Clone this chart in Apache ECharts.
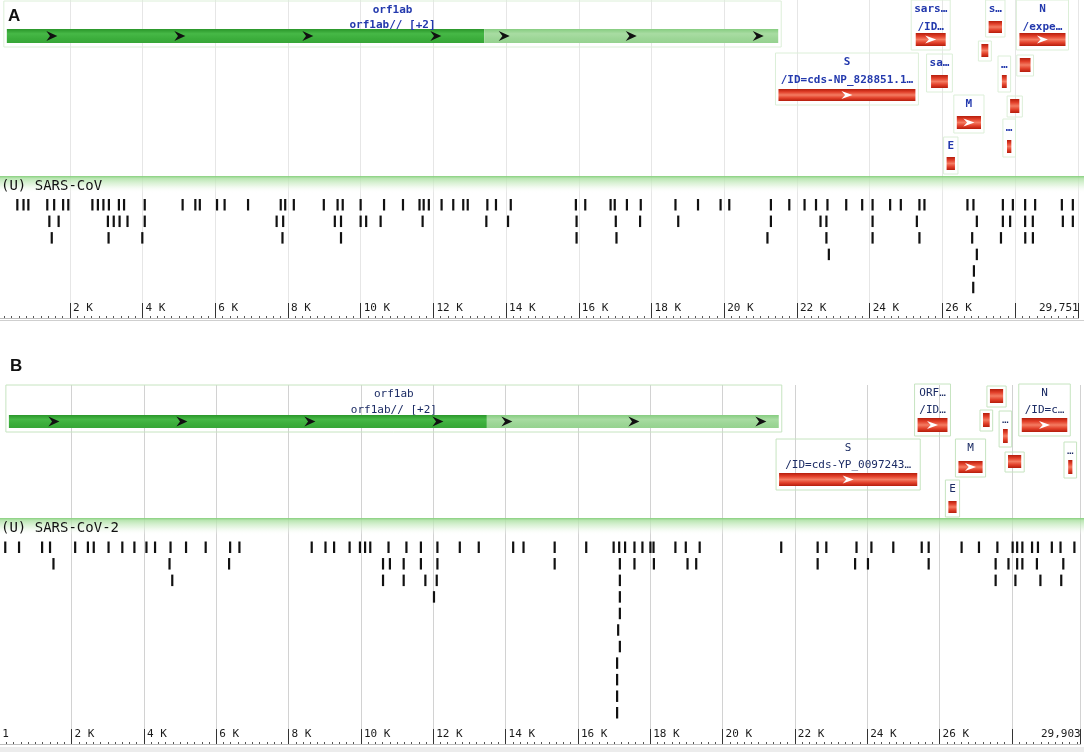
<!DOCTYPE html>
<html>
<head>
<meta charset="utf-8">
<title>SARS-CoV / SARS-CoV-2 genome annotation</title>
<script src="https://cdn.jsdelivr.net/npm/echarts@6.0.0/dist/echarts.min.js"></script>
<style>
  html, body { margin: 0; padding: 0; background: #fff; }
  #chart { width: 1084px; height: 752px; }
</style>
</head>
<body>
<div id="chart"></div>
<script>
// ---- data: panel A, SARS-CoV ----
const genomeA = 29751
const orf1aEndA = 13398
const genesA = ['orf1ab', 'S', 'orf3a', 'orf3b', 'E', 'M', 'orf6', 'orf7a', 'orf7b', 'orf8a', 'orf8b', 'N', 'orf9b']
const startsA = [265, 21492, 25268, 25689, 26117, 26398, 27074, 27273, 27638, 27779, 27864, 28120, 28130]
const endsA = [21485, 25259, 26092, 26153, 26347, 27063, 27265, 27641, 27772, 27898, 28118, 29388, 28426]
const labelsA = [
  ['orf1ab', 'orf1ab// [+2]'], ['S', '/ID=cds-NP_828851.1…'], ['sars…', '/ID…'], ['sa…'],
  ['E'], ['M'], [], ['s…'], ['…'], ['…'], [], ['N', '/expe…'], []
]
// variant hits, one array per stacking row
const hitsA = [
  [551, 721, 854, 1375, 1564, 1811, 1953, 2616, 2767, 2919, 3070, 3345, 3487, 4056, 5098, 5448, 5571,
   6045, 6253, 6898, 7797, 7920, 8157, 8982, 9361, 9502, 9995, 10639, 11160, 11615, 11729, 11871, 12222,
   12543, 12818, 12941, 13481, 13718, 14125, 15916, 16174, 16871, 16985, 17320, 17701, 18656, 19276,
   19897, 20136, 21281, 21787, 22207, 22522, 22837, 23353, 23792, 24078, 24561, 24855, 25367, 25505,
   26688, 26853, 27662, 27937, 28275, 28550, 29285, 29587],
  [1432, 1687, 3042, 3203, 3364, 3582, 4056, 7684, 7864, 9285, 9455, 9995, 10147, 10545, 11700, 13453,
   14050, 15935, 17014, 17682, 18732, 21281, 22646, 22808, 24078, 25296, 26946, 27662, 27862, 28275,
   28486, 29312, 29587],
  [1498, 3061, 3989, 7845, 9455, 15935, 17033, 21186, 22808, 24078, 25367, 26818, 27610, 28278, 28488],
  [22875, 26946],
  [26866],
  [26847]
]

// ---- data: panel B, SARS-CoV-2 ----
const genomeB = 29903
const orf1aEndB = 13483
const genesB = ['orf1ab', 'S', 'ORF3a', 'E', 'M', 'ORF6', 'ORF7a', 'ORF7b', 'ORF8', 'N', 'ORF10']
const startsB = [266, 21563, 25393, 26245, 26523, 27202, 27394, 27756, 27894, 28274, 29558]
const endsB = [21555, 25384, 26220, 26472, 27191, 27387, 27759, 27887, 28259, 29533, 29674]
const labelsB = [
  ['orf1ab', 'orf1ab// [+2]'], ['S', '/ID=cds-YP_0097243…'], ['ORF…', '/ID…'], ['E'], ['M'],
  [], [], ['…'], [], ['N', '/ID=c…'], ['…']
]
const hitsB = [
  [163, 544, 1182, 1401, 2096, 2448, 2610, 3019, 3400, 3734, 4067, 4305, 4733, 5162, 5705, 6381, 6638,
   8637, 9018, 9256, 9685, 9970, 10113, 10256, 10761, 11256, 11656, 12113, 12732, 13256, 14208, 14494,
   15355, 16228, 16986, 17139, 17302, 17562, 17782, 18003, 18089, 18694, 18981, 19365, 21620, 22627,
   22867, 23702, 24114, 24719, 25505, 25697, 26608, 27088, 27597, 28019, 28144, 28288, 28556, 28719,
   29103, 29343, 29727],
  [1496, 4705, 6352, 10609, 10799, 11180, 11656, 12113, 15355, 17158, 17562, 18099, 19029, 19269, 22627,
   23663, 24018, 25697, 27549, 27904, 28144, 28288, 28690, 29420],
  [4781, 10609, 11180, 11780, 12094, 17158, 27549, 28096, 28787, 29363],
  [12018, 17158],
  [17158],
  [17111],
  [17158],
  [17082],
  [17082],
  [17082],
  [17082]
]

const MONO = '"DejaVu Sans Mono", monospace'

// feature packing rows of the viewer (px), kept apart from the data
const layoutA = {
  orf1ab: { top: 29, h: 14, text: [10, 25] },
  S: { top: 89, h: 12, text: [62, 80] },
  orf3a: { top: 33, h: 13, text: [9, 27] },
  orf3b: { top: 75, h: 13, text: [63] },
  E: { top: 157, h: 13, text: [146] },
  M: { top: 116, h: 13, text: [104] },
  orf6: { top: 44, h: 13, text: [] },
  orf7a: { top: 21, h: 12, text: [9] },
  orf7b: { top: 75, h: 13, text: [65] },
  orf8a: { top: 140, h: 13, text: [128] },
  orf8b: { top: 99, h: 14, text: [] },
  N: { top: 33, h: 13, text: [9, 27] },
  orf9b: { top: 58, h: 14, text: [] }
}
const layoutB = {
  orf1ab: { top: 415, h: 13, text: [394, 410] },
  S: { top: 473, h: 13, text: [448, 465] },
  ORF3a: { top: 418, h: 14, text: [393, 410] },
  E: { top: 501, h: 12, text: [489] },
  M: { top: 461, h: 12, text: [448] },
  ORF6: { top: 413, h: 14, text: [] },
  ORF7a: { top: 389, h: 14, text: [] },
  ORF7b: { top: 429, h: 14, text: [420] },
  ORF8: { top: 455, h: 13, text: [] },
  N: { top: 418, h: 14, text: [393, 410] },
  ORF10: { top: 460, h: 14, text: [451] }
}
const panelA = { hitTop: 199, box: '#dcefd8', text: '#2339ad', weight: 'bold ' }
const panelB = { hitTop: 541.5, box: '#c6e4c0', text: '#1b2b64', weight: '' }
const HIT_PITCH = 16.55
const HIT_H = 11.5

const vGrad = (stops) => new echarts.graphic.LinearGradient(0, 0, 0, 1,
  stops.map((c, i) => ({ offset: i / (stops.length - 1), color: c })))
const redFill = vGrad(['#b51d0b', '#e2402a', '#f47c62', '#e2402a', '#b51d0b'])
const darkGreen = vGrad(['#2a962a', '#46b846', '#3cae3c', '#36a636'])
const lightGreen = vGrad(['#86cc80', '#a8dca2', '#9dd697', '#95d28f'])

/**
 * chevron arrow centred at (cx, cy)
 */
function arrow(cx, cy, w, h, color) {
  return {
    type: 'polygon',
    shape: { points: [[cx - w / 2, cy - h / 2], [cx + w / 2, cy], [cx - w / 2, cy + h / 2], [cx - w / 6, cy]] },
    style: { fill: color }
  }
}

/**
 * gene track renderer for one panel
 */
function geneRenderer(names, labels, layout, orf1aEnd, panel) {
  return function (params, api) {
    const i = api.value(2)
    const lay = layout[names[i]]
    const s = api.value(0)
    const e = api.value(1)
    const [x0, y0] = api.coord([s, lay.top])
    const [x1, y1] = api.coord([e, lay.top + lay.h])
    const w = x1 - x0
    const cx = (x0 + x1) / 2
    const cy = (y0 + y1) / 2
    const lines = labels[i]
    const children = []

    // faint outline around label + bar
    const textW = lines.length ? Math.max(...lines.map(t => t.length * 6.6)) : 0
    const boxW = Math.max(w, textW) + 6
    const boxTop = lines.length ? api.coord([s, lay.text[0]])[1] - 9 : y0 - 3
    children.push({
      type: 'rect',
      shape: { x: cx - boxW / 2, y: boxTop, width: boxW, height: y1 + 4 - boxTop },
      style: { fill: null, stroke: panel.box, lineWidth: 1 }
    })

    if (names[i] === 'orf1ab') {
      const xd = api.coord([orf1aEnd, 0])[0]
      children.push({ type: 'rect', shape: { x: x0, y: y0, width: xd - x0, height: y1 - y0 }, style: { fill: darkGreen } })
      children.push({ type: 'rect', shape: { x: xd, y: y0, width: x1 - xd, height: y1 - y0 }, style: { fill: lightGreen } })
      for (let ax = x0 + 45; ax < xd - 8; ax += 128) children.push(arrow(ax, cy, 11, 10, '#111'))
      for (let ax = xd + 20; ax < x1 - 8; ax += 127) children.push(arrow(ax, cy, 11, 10, '#111'))
    } else {
      children.push({ type: 'rect', shape: { x: x0, y: y0, width: Math.max(w, 3), height: y1 - y0 }, style: { fill: redFill } })
      if (w > 20) children.push(arrow(cx, cy, 11, 8, '#fff'))
    }

    lines.forEach((t, k) => {
      children.push({
        type: 'text',
        style: {
          text: t, x: cx, y: api.coord([s, lay.text[k]])[1],
          align: 'center', verticalAlign: 'middle',
          font: panel.weight + '11px ' + MONO, fill: panel.text
        }
      })
    })
    return { type: 'group', children }
  }
}

/**
 * variant hit renderer (short vertical dashes)
 */
function hitRenderer(panel) {
  return function (params, api) {
    const x = api.coord([api.value(0), 0])[0]
    const y = api.coord([0, panel.hitTop + api.value(1) * HIT_PITCH])[1]
    return { type: 'rect', shape: { x: x - 1, y, width: 2.2, height: HIT_H }, style: { fill: '#111' } }
  }
}

/**
 * ruler axis at the bottom of a panel
 */
function rulerAxis(gridIndex, len, zeroText, splitColor) {
  return {
    gridIndex,
    type: 'value',
    position: 'bottom',
    min: 0,
    max: len,
    interval: 2000,
    axisLine: { show: true, onZero: false, lineStyle: { color: '#bdbdbd', width: 1 } },
    axisTick: { show: true, inside: true, length: 15, lineStyle: { color: '#333', width: 1 } },
    minorTick: { show: true, splitNumber: 10, length: 2, lineStyle: { color: '#555', width: 1 } },
    splitLine: { show: true, lineStyle: { color: splitColor, width: 1 } },
    axisLabel: {
      show: true,
      inside: true,
      margin: 4,
      align: 'left',
      padding: [0, 0, 0, 3],
      showMinLabel: true,
      showMaxLabel: true,
      alignMaxLabel: 'right',
      fontFamily: MONO,
      fontSize: 11,
      color: '#1a1a1a',
      formatter: v => {
        if (v === 0) return zeroText
        if (v === len) return len.toLocaleString('en-US')
        if (v === 28000) return ''
        return (v / 1000) + ' K'
      }
    }
  }
}

function headerBand(y, text) {
  return [
    {
      type: 'rect', x: 0, y, z: 1,
      shape: { x: 0, y: 0, width: 1084, height: 17 },
      style: {
        fill: new echarts.graphic.LinearGradient(0, 0, 0, 1, [
          { offset: 0, color: 'rgba(130,205,120,0.95)' },
          { offset: 0.15, color: 'rgba(175,226,166,0.85)' },
          { offset: 0.55, color: 'rgba(214,240,208,0.6)' },
          { offset: 1, color: 'rgba(255,255,255,0)' }
        ])
      }
    },
    {
      type: 'text', x: 1, y: y + 10, z: 2,
      style: { text, font: '14px ' + MONO, fill: '#111', verticalAlign: 'middle' }
    }
  ]
}

const chart = echarts.init(document.getElementById('chart'), null, { renderer: 'canvas' })

const letterStyle = { fontFamily: '"Liberation Sans", Arial, sans-serif', fontSize: 17, fontWeight: 'bold', color: '#111' }

chart.setOption({
  animation: false,
  backgroundColor: '#fff',
  title: [
    { text: 'A', left: 3, top: 3, textStyle: letterStyle },
    { text: 'B', left: 5, top: 353, textStyle: letterStyle }
  ],
  grid: [
    { left: -2.8, top: 0, width: 1081.5, height: 318, containLabel: false, outerBoundsMode: 'none' },
    { left: -0.73, top: 385, width: 1081.4, height: 359, containLabel: false, outerBoundsMode: 'none' }
  ],
  xAxis: [
    rulerAxis(0, genomeA, '', '#e6e6e6'),
    rulerAxis(1, genomeB, '1', '#d2d2d2')
  ],
  yAxis: [
    { gridIndex: 0, type: 'value', min: 0, max: 318, inverse: true, show: false },
    { gridIndex: 1, type: 'value', min: 385, max: 744, inverse: true, show: false }
  ],
  graphic: [
    ...headerBand(176, '(U) SARS-CoV'),
    ...headerBand(518, '(U) SARS-CoV-2'),
    { type: 'rect', x: 0, y: 320, shape: { x: 0, y: 0, width: 1084, height: 1 }, style: { fill: '#cfcfcf' } },
    { type: 'rect', x: 0, y: 747, shape: { x: 0, y: 0, width: 1084, height: 5 }, style: { fill: '#ececec' } }
  ],
  series: [
    {
      type: 'custom',
      name: 'genes A',
      xAxisIndex: 0,
      yAxisIndex: 0,
      silent: true,
      clip: false,
      encode: { x: [0, 1], y: 2 },
      renderItem: geneRenderer(genesA, labelsA, layoutA, orf1aEndA, panelA),
      data: genesA.map((g, i) => [startsA[i], endsA[i], i])
    },
    {
      type: 'custom',
      name: 'hits A',
      xAxisIndex: 0,
      yAxisIndex: 0,
      silent: true,
      clip: false,
      encode: { x: 0, y: 1 },
      renderItem: hitRenderer(panelA),
      data: hitsA.flatMap((row, r) => row.map(p => [p, r]))
    },
    {
      type: 'custom',
      name: 'genes B',
      xAxisIndex: 1,
      yAxisIndex: 1,
      silent: true,
      clip: false,
      encode: { x: [0, 1], y: 2 },
      renderItem: geneRenderer(genesB, labelsB, layoutB, orf1aEndB, panelB),
      data: genesB.map((g, i) => [startsB[i], endsB[i], i])
    },
    {
      type: 'custom',
      name: 'hits B',
      xAxisIndex: 1,
      yAxisIndex: 1,
      silent: true,
      clip: false,
      encode: { x: 0, y: 1 },
      renderItem: hitRenderer(panelB),
      data: hitsB.flatMap((row, r) => row.map(p => [p, r]))
    }
  ]
})
</script>
</body>
</html>
